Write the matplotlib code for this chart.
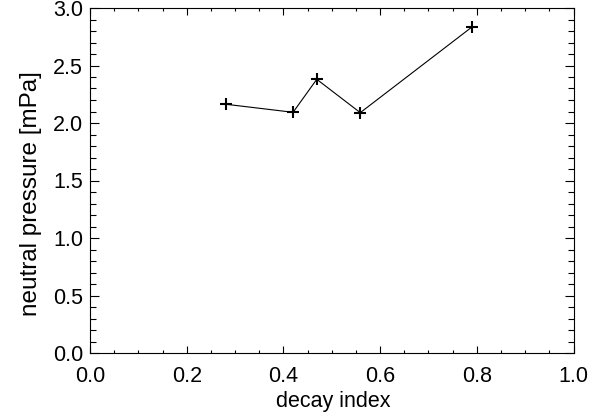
import matplotlib
matplotlib.use("Agg")
import matplotlib.pyplot as plt
from matplotlib.ticker import MultipleLocator

decay_index = [0.281, 0.420, 0.469, 0.559, 0.791]
neutral_pressure = [2.163, 2.093, 2.380, 2.090, 2.838]

plt.rcParams['font.family'] = ['Liberation Sans', 'DejaVu Sans']
fig = plt.figure(figsize=(5.99, 4.16), dpi=100)
ax = fig.add_axes([90/599, 63/416, 483.5/599, 345/416])
ax.plot(decay_index, neutral_pressure, color='black', linewidth=0.8,
        marker='+', markersize=8, markeredgewidth=1.5)
ax.set_xlim(0, 1)
ax.set_ylim(0, 3)
ax.xaxis.set_major_locator(MultipleLocator(0.2))
ax.xaxis.set_minor_locator(MultipleLocator(0.05))
ax.yaxis.set_major_locator(MultipleLocator(0.5))
ax.yaxis.set_minor_locator(MultipleLocator(0.1))
ax.xaxis.set_major_formatter(plt.FormatStrFormatter('%.1f'))
ax.yaxis.set_major_formatter(plt.FormatStrFormatter('%.1f'))
ax.tick_params(which='both', direction='in', top=True, right=True, labelsize=15.5, width=0.8)
ax.tick_params(axis='x', which='major', length=4.8, pad=9.5)
ax.tick_params(axis='x', which='minor', length=2.5)
ax.tick_params(axis='y', which='major', length=6.7, pad=5)
ax.tick_params(axis='y', which='minor', length=4)
for s in ax.spines.values():
    s.set_linewidth(0.8)
ax.set_xlabel('decay index', fontsize=15.5)
ax.set_ylabel('neutral pressure [mPa]', fontsize=17.5)
ax.xaxis.set_label_coords((333 - 90) / 483.5, (353 - 401) / 345)
ax.yaxis.set_label_coords((31 - 90) / 483.5, (353 - 193.5) / 345)
ax.xaxis.label.set_verticalalignment('center')
ax.yaxis.label.set_verticalalignment('center')
fig.savefig('out.png', dpi=100)
